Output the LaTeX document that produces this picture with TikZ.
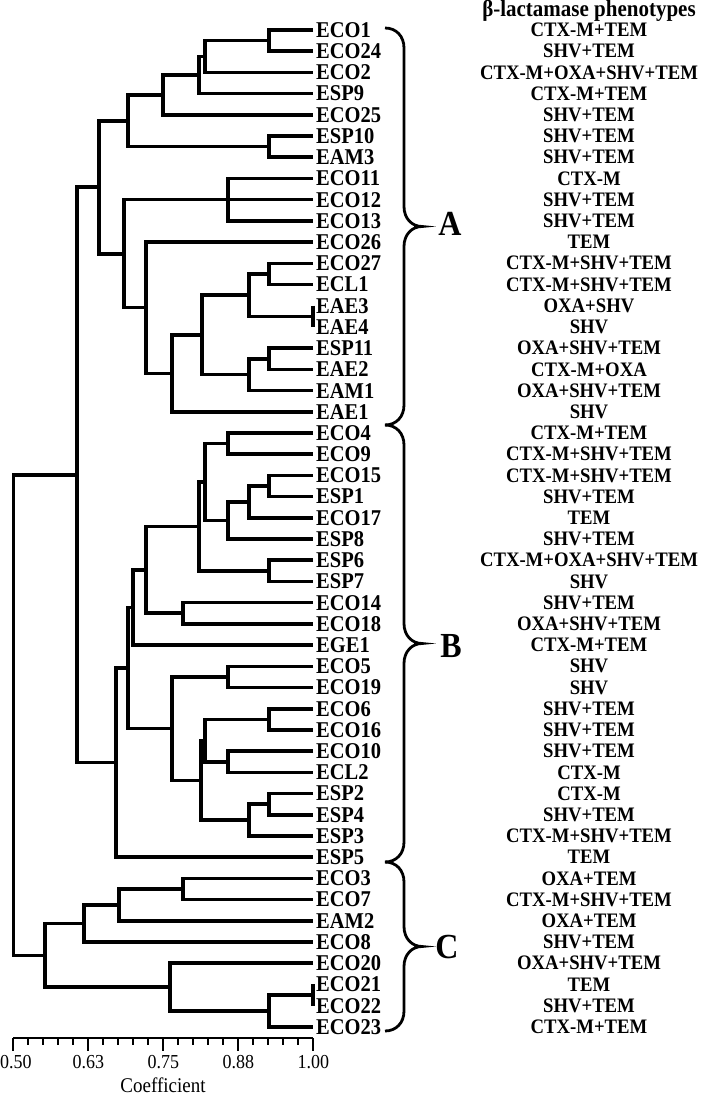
\documentclass[tikz,border=0pt]{standalone}
\usepackage{fontspec}
\usepackage{graphicx}
\setmainfont{Liberation Serif}
\tikzstyle{leaf} = [anchor=west, inner xsep=3pt, inner ysep=0pt, font=\fontsize{20.5}{22}\selectfont\bfseries]
\tikzstyle{pheno} = [inner sep=0pt, font=\fontsize{18.7}{20}\selectfont\bfseries]
\tikzstyle{branch} = [line width=3.6pt]
\tikzstyle{clust} = [inner sep=0pt, font=\fontsize{32}{34}\selectfont\bfseries]
\tikzstyle{curly} = [line width=2.8pt]
\tikzstyle{tick} = [line width=1.9pt]
\tikzstyle{axislabel} = [inner sep=0pt, font=\fontsize{18}{20}\selectfont]
% the printed letters are a little taller than wide
\newcommand{\tall}[1]{\scalebox{1}[1.1]{#1}}
% brace from y=#1 to y=#2 (picture units, y down)
\newcommand{\clusterbrace}[2]{%
  \draw[curly] (385,#1) .. controls (396,#1) and (404,{#1+8}) .. (404,{#1+20})
    -- (404,{(#1+#2)/2-20}) .. controls (404,{(#1+#2)/2-8}) and (412,{(#1+#2)/2}) .. (422,{(#1+#2)/2})
    .. controls (412,{(#1+#2)/2}) and (404,{(#1+#2)/2+8}) .. (404,{(#1+#2)/2+20})
    -- (404,{#2-20}) .. controls (404,{#2-8}) and (396,#2) .. (385,#2);}

\begin{document}
\begin{tikzpicture}[x=1pt, y=-1pt]
\useasboundingbox (0,0) rectangle (709,1097);
\node[inner sep=0pt, font=\fontsize{21}{23}\selectfont\bfseries] (head) at (589,11) {\tall{β-lactamase phenotypes}};

\begin{scope}[y=-21.21pt, yshift=-8.79pt]
%leaves and phenotypes
\foreach \lab/\ph [count=\i] in {ECO1/CTX-M+TEM, ECO24/SHV+TEM, ECO2/CTX-M+OXA+SHV+TEM, ESP9/CTX-M+TEM,
  ECO25/SHV+TEM, ESP10/SHV+TEM, EAM3/SHV+TEM, ECO11/CTX-M, ECO12/SHV+TEM, ECO13/SHV+TEM,
  ECO26/TEM, ECO27/CTX-M+SHV+TEM, ECL1/CTX-M+SHV+TEM, EAE3/OXA+SHV, EAE4/SHV,
  ESP11/OXA+SHV+TEM, EAE2/CTX-M+OXA, EAM1/OXA+SHV+TEM, EAE1/SHV,
  ECO4/CTX-M+TEM, ECO9/CTX-M+SHV+TEM, ECO15/CTX-M+SHV+TEM, ESP1/SHV+TEM, ECO17/TEM,
  ESP8/SHV+TEM, ESP6/CTX-M+OXA+SHV+TEM, ESP7/SHV, ECO14/SHV+TEM, ECO18/OXA+SHV+TEM,
  EGE1/CTX-M+TEM, ECO5/SHV, ECO19/SHV, ECO6/SHV+TEM, ECO16/SHV+TEM, ECO10/SHV+TEM,
  ECL2/CTX-M, ESP2/CTX-M, ESP4/SHV+TEM, ESP3/CTX-M+SHV+TEM, ESP5/TEM,
  ECO3/OXA+TEM, ECO7/CTX-M+SHV+TEM, EAM2/OXA+TEM, ECO8/SHV+TEM, ECO20/OXA+SHV+TEM,
  ECO21/TEM, ECO22/SHV+TEM, ECO23/CTX-M+TEM}
  {
  \node[leaf] (\lab) at (313,\i) {\tall{\lab}};
  \node[pheno] (p\i) at (589,\i) {\tall{\ph}};
  }

%joins of cluster A
\coordinate (a1) at (269,1.5);
\coordinate (a2) at (205,2.25);
\coordinate (a3) at (199,3.125);
\coordinate (a4) at (163,4.06);
\coordinate (a5) at (269,6.5);
\coordinate (a6) at (128,5.28);
\coordinate (a7) at (228,9);
\coordinate (a8) at (269,12.5);
\coordinate (a9) at (313,14.5);
\coordinate (a10) at (249,13.5);
\coordinate (a11) at (269,16.5);
\coordinate (a12) at (249,17.25);
\coordinate (a13) at (202,15.38);
\coordinate (a14) at (172,17.19);
\coordinate (a15) at (146,14.09);
\coordinate (a16) at (124,11.55);
\coordinate (a17) at (99,8.41);
%joins of cluster B
\coordinate (b1) at (228,20.5);
\coordinate (b2) at (269,22.5);
\coordinate (b3) at (249,23.25);
\coordinate (b4) at (228,24.13);
\coordinate (b5) at (205,22.31);
\coordinate (b6) at (269,26.5);
\coordinate (b7) at (199,24.41);
\coordinate (b8) at (183,28.5);
\coordinate (b9) at (146,26.45);
\coordinate (b10) at (133,28.23);
\coordinate (b11) at (228,31.5);
\coordinate (b12) at (269,33.5);
\coordinate (b13) at (228,35.5);
\coordinate (b14) at (205,34.5);
\coordinate (b15) at (269,37.5);
\coordinate (b16) at (249,38.25);
\coordinate (b17) at (201,36.38);
\coordinate (b18) at (172,33.94);
\coordinate (b19) at (128,31.08);
\coordinate (b20) at (116,35.54);
\coordinate (ab) at (77,21.98);
%joins of cluster C
\coordinate (c1) at (183,41.5);
\coordinate (c2) at (119,42.25);
\coordinate (c3) at (84,43.13);
\coordinate (c4) at (313,46.5);
\coordinate (c5) at (269,47.25);
\coordinate (c6) at (170,46.13);
\coordinate (c7) at (45,44.63);
\coordinate (root) at (13.3,33.3);

%branches A
\draw[branch] (ECO1.west) -| (a1) |- (ECO24.west);
\draw[branch] (a1) -| (a2) |- (ECO2.west);
\draw[branch] (a2) -| (a3) |- (ESP9.west);
\draw[branch] (a3) -| (a4) |- (ECO25.west);
\draw[branch] (ESP10.west) -| (a5) |- (EAM3.west);
\draw[branch] (a4) -| (a6) |- (a5);
\draw[branch] (ECO11.west) -| (a7) |- (ECO13.west);
\draw[branch] (a7) -- (ECO12.west);
\draw[branch] (ECO27.west) -| (a8) |- (ECL1.west);
\draw[branch] (EAE3.west) -- (EAE4.west);
\draw[branch] (a8) -| (a10) |- (a9);
\draw[branch] (ESP11.west) -| (a11) |- (EAE2.west);
\draw[branch] (a11) -| (a12) |- (EAM1.west);
\draw[branch] (a10) -| (a13) |- (a12);
\draw[branch] (a13) -| (a14) |- (EAE1.west);
\draw[branch] (ECO26.west) -| (a15) |- (a14);
\draw[branch] (a7) -| (a16) |- (a15);
\draw[branch] (a6) -| (a17) |- (a16);
%branches B
\draw[branch] (ECO4.west) -| (b1) |- (ECO9.west);
\draw[branch] (ECO15.west) -| (b2) |- (ESP1.west);
\draw[branch] (b2) -| (b3) |- (ECO17.west);
\draw[branch] (b3) -| (b4) |- (ESP8.west);
\draw[branch] (b1) -| (b5) |- (b4);
\draw[branch] (ESP6.west) -| (b6) |- (ESP7.west);
\draw[branch] (b5) -| (b7) |- (b6);
\draw[branch] (ECO14.west) -| (b8) |- (ECO18.west);
\draw[branch] (b7) -| (b9) |- (b8);
\draw[branch] (b9) -| (b10) |- (EGE1.west);
\draw[branch] (ECO5.west) -| (b11) |- (ECO19.west);
\draw[branch] (ECO6.west) -| (b12) |- (ECO16.west);
\draw[branch] (ECO10.west) -| (b13) |- (ECL2.west);
\draw[branch] (b12) -| (b14) |- (b13);
\draw[branch] (ESP2.west) -| (b15) |- (ESP4.west);
\draw[branch] (b15) -| (b16) |- (ESP3.west);
\draw[branch] (b14) -| (b17) |- (b16);
\draw[branch] (b11) -| (b18) |- (b17);
\draw[branch] (b10) -| (b19) |- (b18);
\draw[branch] (b19) -| (b20) |- (ESP5.west);
\draw[branch] (a17) -| (ab) |- (b20);
%branches C
\draw[branch] (ECO3.west) -| (c1) |- (ECO7.west);
\draw[branch] (c1) -| (c2) |- (EAM2.west);
\draw[branch] (c2) -| (c3) |- (ECO8.west);
\draw[branch] (ECO21.west) -- (ECO22.west);
\draw[branch] (c4) -| (c5) |- (ECO23.west);
\draw[branch] (ECO20.west) -| (c6) |- (c5);
\draw[branch] (c3) -| (c7) |- (c6);
\draw[branch] (ab) -| (root) |- (c7);
\end{scope}

%clusters
\clusterbrace{28}{425}
\clusterbrace{425}{862}
\clusterbrace{862}{1031}
\node[clust] (A) at (450,224) {\tall{A}};
\node[clust] (B) at (451,646) {\tall{B}};
\node[clust] (C) at (447,947) {\tall{C}};

%scale
\draw[tick] (13.3,1038) -- (313.3,1038);
\foreach \k in {0,...,20}
  \draw[tick] ({13.3+15*\k},1038) -- ++(0,7);
\foreach \v [count=\k from 0] in {0.50,0.63,0.75,0.88,1.00}
  {
  \draw[tick] ({13.3+75*\k},1038) -- ++(0,13);
  \node[axislabel] (t\k) at ({max(15.8,13.3+75*\k)},1062) {\tall{\v}};
  }
\node[axislabel, font=\fontsize{19}{21}\selectfont] (coef) at (163,1085) {\tall{Coefficient}};
\end{tikzpicture}
\end{document}
